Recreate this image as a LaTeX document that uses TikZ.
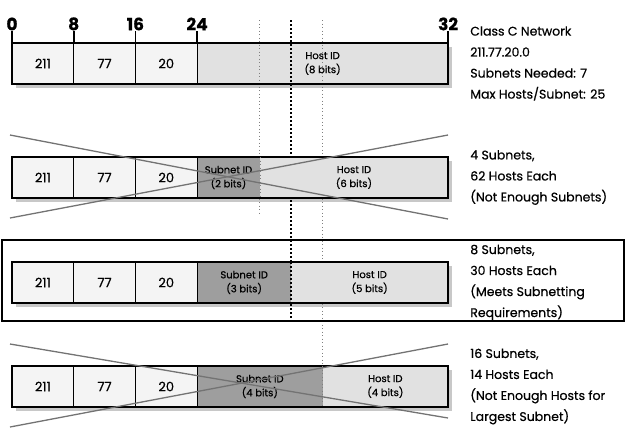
\documentclass[tikz,border=0pt]{standalone}
\usepackage{fontspec}
\setmainfont{Poppins}[RawFeature={embolden=0.6}]
\usetikzlibrary{positioning, backgrounds, calc}
\definecolor{netfill}{RGB}{244,244,244}
\definecolor{hostfill}{RGB}{225,225,225}
\definecolor{subnetfill}{RGB}{158,158,158}
\definecolor{shadowgray}{RGB}{200,200,200}
\definecolor{crossgray}{RGB}{115,115,115}

\begin{document}
\begin{tikzpicture}[
    x=1pt, y=-1pt,
    cell/.style={rectangle, fill=#1, minimum height=41pt, inner sep=0pt, outer sep=0pt, align=center, font=\fontsize{13}{15}\selectfont},
    cell/.default=netfill,
    octet/.style={cell, minimum width=61.7pt},
    idcell/.style={cell=#1, font=\fontsize{10}{14}\selectfont},
    rowframe/.style={draw, line width=1.6pt},
    divider/.style={line width=0.8pt},
    bitnum/.style={font=\fontsize{17}{17}\selectfont\bfseries, inner sep=0.5pt},
    ticka/.style={line width=1.6pt},
    note/.style={align=left, inner sep=0pt, font=\fontsize{12.5}{21}\selectfont},
    guide/.style={gray, line width=0.7pt, dash pattern=on 1pt off 2.5pt},
    guidebold/.style={line width=2pt, dash pattern=on 2pt off 2pt},
    crossout/.style={crossgray, line width=1.3pt},
    rowshadow/.style={fill=shadowgray}
]
\useasboundingbox (0,0) rectangle (634,432);

% Row 1: the class C network
\node[octet, anchor=north west] (r1a) at (12,43) {211};
\node[octet, right=0pt of r1a] (r1b) {77};
\node[octet, right=0pt of r1b] (r1c) {20};
\node[idcell=hostfill, minimum width=251pt, right=0pt of r1c] (r1h) {Host ID\\(8 bits)};

% Bit positions
\node[bitnum, above=12pt of r1a.north west] (n0) {0};
\node[bitnum, above=12pt of r1a.north east] (n8) {8};
\node[bitnum, above=12pt of r1b.north east] (n16) {16};
\node[bitnum, above=12pt of r1c.north east] (n24) {24};
\node[bitnum, above=12pt of r1h.north east] (n32) {32};
\draw[ticka] (n0.south) -- (r1a.north west);
\draw[ticka] (n8.south) -- (r1a.north east);
\draw[ticka] (n16.south) -- (r1b.north east);
\draw[ticka] (n24.south) -- (r1c.north east);
\draw[ticka] (n32.south) -- (r1h.north east);

% Guide lines at bits 26, 27 and 28
\coordinate (gtop) at (0,20);
\coordinate (g26end) at (0,215);
\coordinate (g27end) at (0,320);
\coordinate (g28end) at (0,407);
\draw[guide] (259.75,0 |- gtop) -- (259.75,0 |- g26end);
\draw[guidebold] (291.1,0 |- gtop) -- (291.1,0 |- g27end);
\draw[guide] (322.5,0 |- gtop) -- (322.5,0 |- g28end);

% Row 2: 2 subnet bits
\node[octet, anchor=north west] (r2a) at (12,157) {211};
\node[octet, right=0pt of r2a] (r2b) {77};
\node[octet, right=0pt of r2b] (r2c) {20};
\node[idcell=subnetfill, minimum width=62.75pt, right=0pt of r2c] (r2s) {Subnet ID\\(2 bits)};
\node[idcell=hostfill, minimum width=188.25pt, right=0pt of r2s] (r2h) {Host ID\\(6 bits)};

% Row 3: 3 subnet bits
\node[octet, anchor=north west] (r3a) at (12,262) {211};
\node[octet, right=0pt of r3a] (r3b) {77};
\node[octet, right=0pt of r3b] (r3c) {20};
\node[idcell=subnetfill, minimum width=94.1pt, right=0pt of r3c] (r3s) {Subnet ID\\(3 bits)};
\node[idcell=hostfill, minimum width=156.9pt, right=0pt of r3s] (r3h) {Host ID\\(5 bits)};

% Row 4: 4 subnet bits
\node[octet, anchor=north west] (r4a) at (12,366) {211};
\node[octet, right=0pt of r4a] (r4b) {77};
\node[octet, right=0pt of r4b] (r4c) {20};
\node[idcell=subnetfill, minimum width=125.5pt, right=0pt of r4c] (r4s) {Subnet ID\\(4 bits)};
\node[idcell=hostfill, minimum width=125.5pt, right=0pt of r4s] (r4h) {Host ID\\(4 bits)};

% Frames and dividers
\foreach \n in {1,2,3,4} {
    \draw[rowframe] (r\n a.north west) rectangle (r\n h.south east);
    \foreach \c in {a,b,c}
        \draw[divider] (r\n\c.north east) -- (r\n\c.south east);
}
\draw[guide] (r2s.north east) -- (r2s.south east);
\draw[guidebold] (r3s.north east) -- (r3s.south east);
\draw[guide] (r4s.north east) -- (r4s.south east);

\begin{scope}[on background layer]
    \foreach \n in {1,2,3,4}
        \fill[rowshadow] ($(r\n a.north west)+(4,4)$) rectangle ($(r\n h.south east)+(4,4)$);
\end{scope}

% Crossed out rows
\draw[crossout] (10,135) -- (448,219);
\draw[crossout] (10,218) -- (448,135);
\draw[crossout] (10,344) -- (448,418);
\draw[crossout] (10,427) -- (448,344);

% Chosen row
\draw[rowframe] (2,240) rectangle (624,321);

% Notes
\node[note, right=22pt of r1h] (t1) {Class C Network\\211.77.20.0\\Subnets Needed: 7\\Max Hosts/Subnet: 25};
\node[note, right=22pt of r2h] (t2) {4 Subnets,\\62 Hosts Each\\(Not Enough Subnets)};
\node[note, right=22pt of r3h] (t3) {8 Subnets,\\30 Hosts Each\\(Meets Subnetting\\Requirements)};
\node[note, right=22pt of r4h] (t4) {16 Subnets,\\14 Hosts Each\\(Not Enough Hosts for\\Largest Subnet)};

\end{tikzpicture}
\end{document}
